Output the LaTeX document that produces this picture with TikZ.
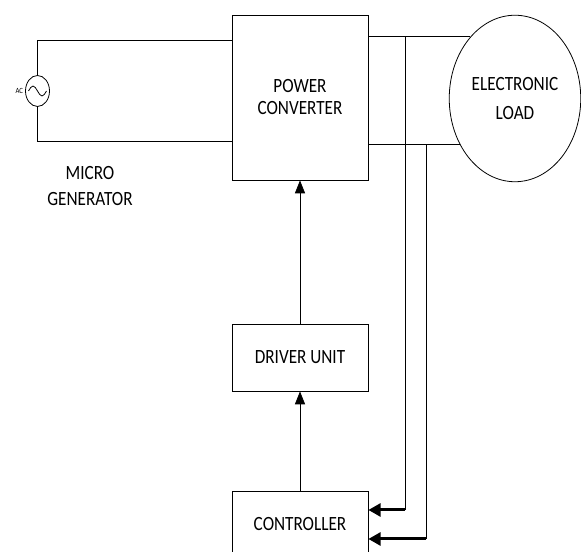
\documentclass[tikz,border=0pt]{standalone}
\usepackage{fontspec}
\setmainfont{Carlito}[FakeStretch=0.85]
\usetikzlibrary{arrows.meta,shapes.geometric}

\begin{document}
\begin{tikzpicture}[
block/.style={draw,line width=0.45pt,minimum width=2.72cm,minimum height=1.34cm,align=center,font=\fontsize{11.5}{12.5}\selectfont},
load/.style={draw,ellipse,line width=0.45pt,minimum width=2.63cm,minimum height=3.33cm,inner sep=0pt,align=center,font=\fontsize{11.5}{16.7}\selectfont},
source/.style={draw,ellipse,line width=0.45pt,minimum width=0.48cm,minimum height=0.62cm,inner sep=0pt},
wire/.style={line width=0.45pt},
arrow/.style={-{Triangle[length=7.4pt,width=5.8pt]},line width=0.45pt},
sense/.style={-{Triangle[length=7pt,width=7.4pt]},line width=1.7pt} ]

\useasboundingbox (0,0) rectangle (11.62,11.04);

% main blocks
\node[block,minimum height=3.3cm](PC) at (6.0,9.09) {POWER\\CONVERTER};

\node[block](DU) at (6.0,3.89) {DRIVER UNIT};

\node[block](CT) at (6.0,0.55) {CONTROLLER};

\node[load](LD) at (10.3,9.07) {ELECTRONIC\\LOAD};

% micro generator
\node[source](AC) at (0.75,9.22) {};

\draw[wire] (AC.center) ++(-0.18,0) sin ++(0.09,0.1) cos ++(0.09,-0.1) sin ++(0.09,-0.1) cos ++(0.09,0.1);

\node[font=\fontsize{4.5}{5}\selectfont,inner sep=1pt,anchor=east](aclabel) at (AC.west) {AC};

\node[align=center,font=\fontsize{11.5}{14.7}\selectfont](gen) at (1.8,7.32) {MICRO\\GENERATOR};

\coordinate (gt) at (0.75,10.23);
\coordinate (gb) at (0.75,8.21);

\draw[wire] (gt -| PC.west) -- (gt) -- (AC.north);

\draw[wire] (gb -| PC.west) -- (gb) -- (AC.south);

% output lines to the load
\draw[wire] (LD.126) -- (LD.126 -| PC.east);

\draw[wire] (LD.220) -- (LD.220 -| PC.east);

% feedback taps
\coordinate (s1) at (8.1,0.84);
\coordinate (s2) at (8.52,0.26);

\draw[wire] (s1 |- LD.126) -- (s1);

\draw[wire] (s2 |- LD.220) -- (s2);

\draw[sense] (s1) -- (s1 -| CT.east);

\draw[sense] (s2) -- (s2 -| CT.east);

% control path
\draw[arrow] (CT) -- (DU);

\draw[arrow] (DU) -- (PC);

\end{tikzpicture}
\end{document}
